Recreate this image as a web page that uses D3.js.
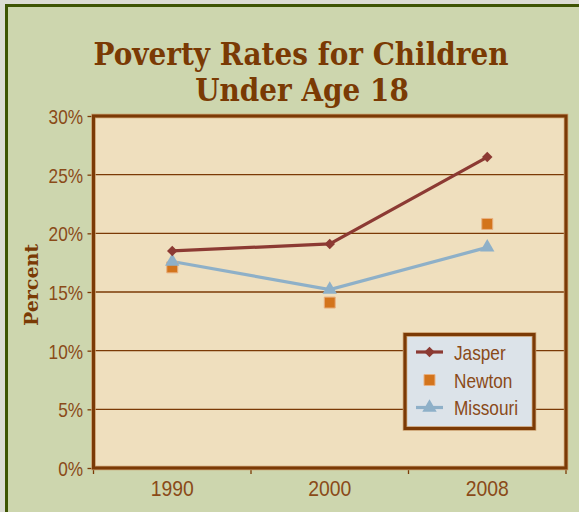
<!DOCTYPE html>
<html><head><meta charset="utf-8">
<script src="https://cdn.jsdelivr.net/npm/d3@7"></script>
<style>html,body{margin:0;padding:0;background:#e4e4dc;}svg{display:block;}</style>
</head><body>
<svg id="c" width="579" height="512"></svg>
<script>
const years = ["1990", "2000", "2008"];
const jasper = [18.5, 19.1, 26.5];
const newton = [17.1, 14.1, 20.8];
const missouri = [17.6, 15.2, 18.8];
const yTicks = [0, 5, 10, 15, 20, 25, 30];
const seriesNames = ["Jasper", "Newton", "Missouri"];
const titleLines = ["Poverty Rates for Children", "Under Age 18"];
const yTitle = "Percent";

const svg = d3.select("#c");
const brown = "#7b3a06";
const textBrown = "#8a4a18";
const sans = "'Liberation Sans',Arial,sans-serif";
const sx = 0.82; // narrow-face horizontal scale

// outer background and frame
svg.append("rect").attr("x",0).attr("y",0).attr("width",579).attr("height",512).attr("fill","#dcdcd4");
svg.append("rect").attr("x",6.5).attr("y",5.5).attr("width",600).attr("height",600)
  .attr("fill","#cdd6ae").attr("stroke","#3e5404").attr("stroke-width",3);

const m = {l:93.5, r:566, t:116, b:468};
const x = d3.scaleBand().domain(years).range([m.l, m.r]).padding(0);
const y = d3.scaleLinear().domain([0,30]).range([m.b, m.t]);

svg.append("rect").attr("x",m.l).attr("y",m.t).attr("width",m.r-m.l).attr("height",m.b-m.t)
  .attr("fill","#efdfbe");

svg.append("g").selectAll("line").data(yTicks.filter(d=>d>0 && d<30)).join("line")
  .attr("x1",m.l).attr("x2",m.r).attr("y1",d=>y(d)).attr("y2",d=>y(d))
  .attr("stroke",brown).attr("stroke-width",1.3);

// y axis
const yAxis = d3.axisLeft(y).tickValues(yTicks).tickFormat(d=>d+"%").tickSizeInner(6).tickSizeOuter(0).tickPadding(4);
const gy = svg.append("g").attr("transform",`translate(${m.l},0)`).call(yAxis);
gy.select(".domain").remove();
gy.selectAll(".tick line").attr("stroke",brown).attr("stroke-width",1.3);
gy.selectAll(".tick text").attr("fill",textBrown).style("font-family",sans).style("font-size","21px")
  .attr("dy","0.36em").attr("x",-10.5/sx).attr("transform",`scale(${sx},1)`);

// x axis
const xAxis = d3.axisBottom(x).tickSize(0).tickPadding(12);
const gx = svg.append("g").attr("transform",`translate(0,${m.b})`).call(xAxis);
gx.select(".domain").remove();
gx.selectAll(".tick text").attr("fill",textBrown).style("font-family",sans).style("font-size","22px")
  .attr("transform",`scale(${sx+0.06},1)`);
const edges = years.map(d=>x(d)).concat([x(years[years.length-1])+x.bandwidth()]);
svg.append("g").selectAll("line").data(edges).join("line")
  .attr("x1",d=>d).attr("x2",d=>d).attr("y1",m.b).attr("y2",m.b+6)
  .attr("stroke",brown).attr("stroke-width",1.3);

// plot frame
svg.append("rect").attr("x",m.l).attr("y",m.t).attr("width",m.r-m.l).attr("height",m.b-m.t)
  .attr("fill","none").attr("stroke","#c89a6a").attr("stroke-width",4.5);
svg.append("rect").attr("x",m.l).attr("y",m.t).attr("width",m.r-m.l).attr("height",m.b-m.t)
  .attr("fill","none").attr("stroke",brown).attr("stroke-width",3);

const cx = d => x(d) + x.bandwidth()/2;
const jColor = "#8c3a33", nColor = "#d3741c", mColor = "#8eb0c8";

const line = d3.line().x((d,i)=>cx(years[i])).y(d=>y(d));
svg.append("path").datum(missouri).attr("d",line).attr("fill","none").attr("stroke",mColor).attr("stroke-width",3.2);
svg.append("path").datum(jasper).attr("d",line).attr("fill","none").attr("stroke",jColor).attr("stroke-width",3.2);

const diamond = d3.symbol().type(d3.symbolDiamond2).size(70);
const square = d3.symbol().type(d3.symbolSquare).size(120);
const tri = d3.symbol().type(d3.symbolTriangle).size(90);

svg.append("g").selectAll("path").data(newton).join("path")
  .attr("d",square).attr("transform",(d,i)=>`translate(${cx(years[i])},${y(d)})`)
  .attr("fill",nColor).attr("stroke","#e8b080").attr("stroke-width",1);
svg.append("g").selectAll("path").data(missouri).join("path")
  .attr("d",tri).attr("transform",(d,i)=>`translate(${cx(years[i])},${y(d)})`)
  .attr("fill",mColor);
svg.append("g").selectAll("path").data(jasper).join("path")
  .attr("d",diamond).attr("transform",(d,i)=>`translate(${cx(years[i])},${y(d)})`)
  .attr("fill",jColor);

// legend
const lg = svg.append("g");
lg.append("rect").attr("x",405).attr("y",334.5).attr("width",129).attr("height",94)
  .attr("fill","#dce3e9").attr("stroke","#c89a6a").attr("stroke-width",4.5);
lg.append("rect").attr("x",405).attr("y",334.5).attr("width",129).attr("height",94)
  .attr("fill","none").attr("stroke",brown).attr("stroke-width",3);
const ly = [352, 380, 407.5];
const lcx = 429.5;
lg.append("line").attr("x1",416).attr("x2",443).attr("y1",ly[0]).attr("y2",ly[0]).attr("stroke",jColor).attr("stroke-width",3.2);
lg.append("path").attr("d",diamond).attr("transform",`translate(${lcx},${ly[0]})`).attr("fill",jColor);
lg.append("path").attr("d",square).attr("transform",`translate(${lcx},${ly[1]})`).attr("fill",nColor).attr("stroke","#e8b080").attr("stroke-width",1);
lg.append("line").attr("x1",416).attr("x2",443).attr("y1",ly[2]).attr("y2",ly[2]).attr("stroke",mColor).attr("stroke-width",3.2);
lg.append("path").attr("d",tri).attr("transform",`translate(${lcx},${ly[2]})`).attr("fill",mColor);
lg.selectAll("text").data(seriesNames).join("text")
  .attr("transform",(d,i)=>`translate(454,${ly[i]}) scale(${sx},1)`).attr("dy","0.36em")
  .attr("fill",textBrown).style("font-family",sans).style("font-size","21px").text(d=>d);

// title
const serif = "'DejaVu Serif','Liberation Serif',serif";
const tg = svg.append("g");
const t1 = tg.append("text").attr("text-anchor","middle").attr("transform","translate(301,65) scale(1,1.15)")
  .attr("fill","#7a3a04").style("font-family",serif).style("font-weight","bold").style("font-size","32px").text(titleLines[0]);
const w = t1.node().getComputedTextLength();
const fs = 32*415/w;
t1.style("font-size",fs+"px");
tg.append("text").attr("text-anchor","middle").attr("transform","translate(302,101) scale(1,1.15)")
  .attr("fill","#7a3a04").style("font-family",serif).style("font-weight","bold").style("font-size",fs+"px").text(titleLines[1]);

// y title
svg.append("text").attr("transform","translate(38,285) rotate(-90)").attr("text-anchor","middle")
  .attr("fill","#7a3a04").style("font-family",serif).style("font-weight","bold").style("font-size","19px").text(yTitle);
</script>
</body></html>
